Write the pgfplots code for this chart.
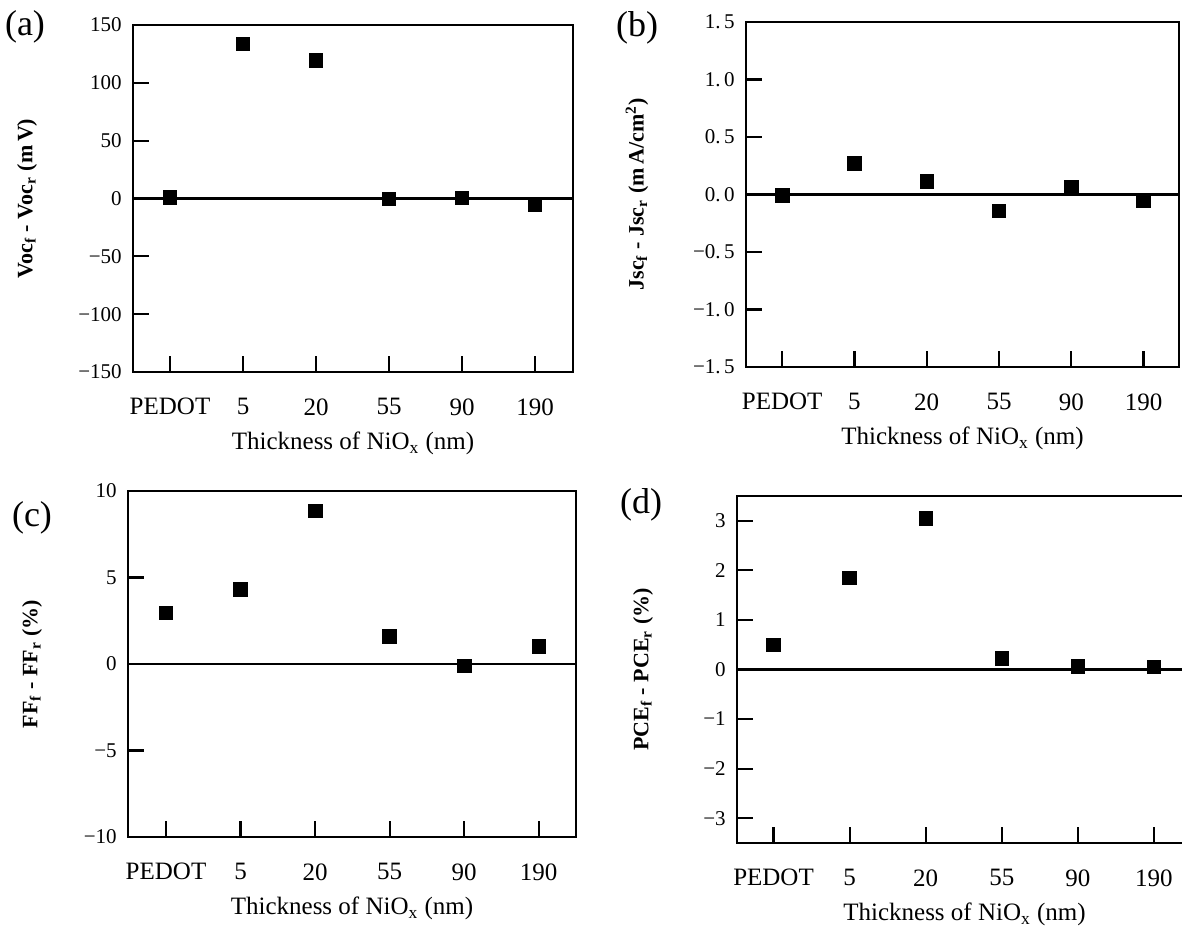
\documentclass[border=0pt]{standalone}
\usepackage{fontspec}
\setmainfont{Liberation Serif}
\usepackage{pgfplots}
\pgfplotsset{compat=1.18}

% 1 px of the reference = 0.5pt
\pgfplotsset{
  panel/.style={
    scale only axis, anchor=south west,
    axis line style={line width=1.1pt},
    every tick/.style={black, line width=1.1pt},
    tick align=inside, xtick pos=bottom, ytick pos=left,
    major tick length=8pt,
    xtick={0,...,5}, xticklabels={PEDOT,5,20,55,90,190},
    xticklabel style={font=\fontsize{12.5}{14}\selectfont, inner sep=0pt, anchor=north, yshift=-13pt},
    yticklabel style={font=\fontsize{10.5}{12}\selectfont, inner sep=0pt, anchor=east, xshift=-5.5pt},
    xlabel={Thickness of NiO\textsubscript{x} (nm)},
    xlabel style={font=\fontsize{12.5}{14}\selectfont, at={(axis description cs:0.5,0)}, anchor=north, inner sep=0pt, yshift=-30pt},
    ylabel style={font=\bfseries\fontsize{11}{13}\selectfont, anchor=center, inner sep=0pt},
    clip=false,
  },
  pts/.style={only marks, mark=square*, mark size=3.4pt, black},
}
\newcommand\zeroline{\draw[line width=1.1pt] ({axis description cs:0,0}|-{axis cs:0,0}) -- ({axis description cs:1,0}|-{axis cs:0,0});}

\begin{document}
\begin{tikzpicture}
% (a)
\begin{axis}[panel, at={(66.5pt,278.5pt)}, width=220pt, height=173.5pt,
  xmin=-0.507, xmax=5.52, ymin=-150, ymax=150,
  ytick={-150,-100,-50,0,50,100,150},
  yticklabels={−150,−100,−50,0,50,100,150},
  ylabel={Voc\textsubscript{f} - Voc\textsubscript{r} (m\,V)},
  ylabel style={at={([xshift=-53pt]axis description cs:0,0.5)}}]
\zeroline
\addplot[pts] coordinates {(0,1) (1,133.6) (2,119.3) (3,-0.5) (4,0.6) (5,-5.7)};
\end{axis}
% (b)
\begin{axis}[panel, at={(373pt,281pt)}, width=216.5pt, height=172.5pt,
  xmin=-0.5, xmax=5.49, ymin=-1.5, ymax=1.5,
  ytick={-1.5,-1,-0.5,0,0.5,1,1.5},
  yticklabels={−1.\,5,−1.\,0,−0.\,5,0.\,0,0.\,5,1.\,0,1.\,5},
  ylabel={Jsc\textsubscript{f} - Jsc\textsubscript{r} (m\,A/cm\textsuperscript{2})},
  ylabel style={at={([xshift=-54.5pt]axis description cs:0,0.5)}}]
\zeroline
\addplot[pts] coordinates {(0,-0.01) (1,0.271) (2,0.114) (3,-0.143) (4,0.066) (5,-0.049)};
\end{axis}
% (c)
\begin{axis}[panel, at={(64pt,46pt)}, width=224pt, height=173pt,
  xmin=-0.51, xmax=5.5, ymin=-10, ymax=10,
  ytick={-10,-5,0,5,10},
  yticklabels={−10,−5,0,5,10},
  ylabel={FF\textsubscript{f} - FF\textsubscript{r} (\%)},
  ylabel style={at={([xshift=-48pt]axis description cs:0,0.5)}}]
\zeroline
\addplot[pts] coordinates {(0,2.95) (1,4.32) (2,8.86) (3,1.61) (4,-0.1) (5,1.03)};
\end{axis}
% (d)
\begin{axis}[panel, at={(368.5pt,43pt)}, width=227.5pt, height=173.5pt,
  xmin=-0.48, xmax=5.5, ymin=-3.5, ymax=3.5,
  ytick={-3,-2,-1,0,1,2,3},
  yticklabels={−3,−2,−1,0,1,2,3},
  ylabel={PCE\textsubscript{f} - PCE\textsubscript{r} (\%)},
  ylabel style={at={([xshift=-47pt]axis description cs:0,0.5)}}]
\zeroline
\addplot[pts] coordinates {(0,0.50) (1,1.85) (2,3.05) (3,0.22) (4,0.06) (5,0.05)};
\end{axis}
\node[font=\fontsize{18}{20}\selectfont] at (12.5pt,451pt) {(a)};
\node[font=\fontsize{18}{20}\selectfont] at (318.5pt,450.5pt) {(b)};
\node[font=\fontsize{18}{20}\selectfont] at (16pt,205.5pt) {(c)};
\node[font=\fontsize{18}{20}\selectfont] at (320.5pt,212pt) {(d)};
\pgfresetboundingbox
\path[use as bounding box] (0,0) rectangle (591pt,464.5pt);
\end{tikzpicture}
\end{document}
